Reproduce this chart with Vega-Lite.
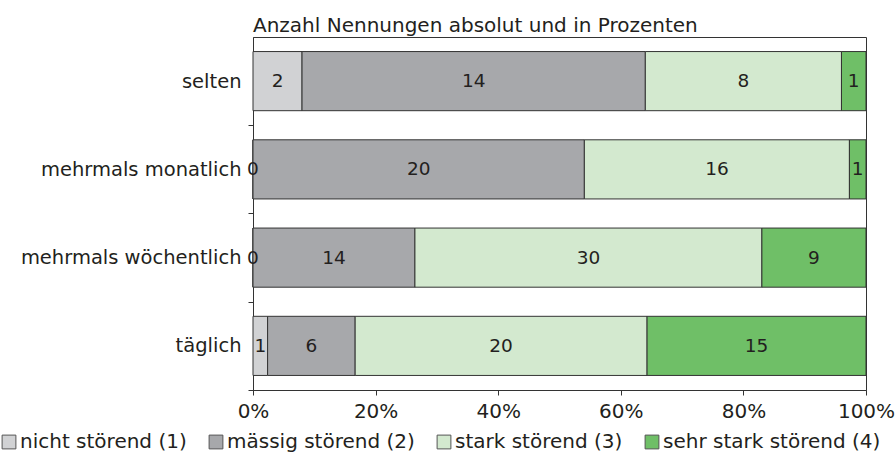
{
  "$schema": "https://vega.github.io/schema/vega-lite/v6.json",
  "width": 613,
  "height": 353,
  "autosize": {"type": "none"},
  "padding": {"left": 253, "top": 37, "right": 30, "bottom": 67},
  "background": "white",
  "config": {
    "font": "DejaVu Sans",
    "view": {"stroke": "#333333", "strokeWidth": 1},
    "axis": {"labelColor": "#231f20", "domainColor": "#333333", "tickColor": "#333333", "grid": false, "title": null},
    "legend": {"labelColor": "#231f20"}
  },
  "title": {"text": "Anzahl Nennungen absolut und in Prozenten", "anchor": "start", "frame": "group", "fontSize": 20, "fontWeight": "normal", "color": "#231f20", "offset": 1, "font": "DejaVu Sans"},
  "data": {
    "values": [
      {"haeufigkeit": "selten", "stufe": "nicht störend (1)", "nr": 1, "anzahl": 2},
      {"haeufigkeit": "selten", "stufe": "mässig störend (2)", "nr": 2, "anzahl": 14},
      {"haeufigkeit": "selten", "stufe": "stark störend (3)", "nr": 3, "anzahl": 8},
      {"haeufigkeit": "selten", "stufe": "sehr stark störend (4)", "nr": 4, "anzahl": 1},
      {"haeufigkeit": "mehrmals monatlich", "stufe": "nicht störend (1)", "nr": 1, "anzahl": 0},
      {"haeufigkeit": "mehrmals monatlich", "stufe": "mässig störend (2)", "nr": 2, "anzahl": 20},
      {"haeufigkeit": "mehrmals monatlich", "stufe": "stark störend (3)", "nr": 3, "anzahl": 16},
      {"haeufigkeit": "mehrmals monatlich", "stufe": "sehr stark störend (4)", "nr": 4, "anzahl": 1},
      {"haeufigkeit": "mehrmals wöchentlich", "stufe": "nicht störend (1)", "nr": 1, "anzahl": 0},
      {"haeufigkeit": "mehrmals wöchentlich", "stufe": "mässig störend (2)", "nr": 2, "anzahl": 14},
      {"haeufigkeit": "mehrmals wöchentlich", "stufe": "stark störend (3)", "nr": 3, "anzahl": 30},
      {"haeufigkeit": "mehrmals wöchentlich", "stufe": "sehr stark störend (4)", "nr": 4, "anzahl": 9},
      {"haeufigkeit": "täglich", "stufe": "nicht störend (1)", "nr": 1, "anzahl": 1},
      {"haeufigkeit": "täglich", "stufe": "mässig störend (2)", "nr": 2, "anzahl": 6},
      {"haeufigkeit": "täglich", "stufe": "stark störend (3)", "nr": 3, "anzahl": 20},
      {"haeufigkeit": "täglich", "stufe": "sehr stark störend (4)", "nr": 4, "anzahl": 15}
    ]
  },
  "encoding": {
    "y": {
      "field": "haeufigkeit", "type": "nominal",
      "sort": ["selten", "mehrmals monatlich", "mehrmals wöchentlich", "täglich"],
      "scale": {"paddingInner": 0.33, "paddingOuter": 0.165},
      "axis": {"labelFontSize": 19.5, "labelPadding": 7, "tickSize": 5, "bandPosition": 1, "tickExtra": false, "tickOffset": 14.56, "labelOffset": -14.56, "labelLimit": 300}
    },
    "x": {
      "field": "anzahl", "type": "quantitative", "aggregate": "sum", "stack": "normalize",
      "scale": {"domain": [0, 1]},
      "axis": {"format": "%", "values": [0, 0.2, 0.4, 0.6, 0.8, 1], "labelFontSize": 20, "tickSize": 5, "labelPadding": 6, "labelFlush": false}
    },
    "order": {"field": "nr", "type": "quantitative"}
  },
  "layer": [
    {
      "mark": {"type": "bar", "stroke": "#333333", "strokeWidth": 1},
      "encoding": {
        "color": {
          "field": "stufe", "type": "nominal",
          "scale": {
            "domain": ["nicht störend (1)", "mässig störend (2)", "stark störend (3)", "sehr stark störend (4)"],
            "range": ["#d1d2d4", "#a7a8ab", "#d3e9cf", "#6fbf67"]
          },
          "legend": {
            "title": null, "orient": "none", "direction": "horizontal",
            "legendX": -254, "legendY": 395,
            "symbolType": "square", "symbolSize": 190, "symbolStrokeColor": "#555555", "symbolStrokeWidth": 1,
            "labelFontSize": 20, "labelOffset": 1, "columnPadding": 19, "labelLimit": 400
          }
        }
      }
    },
    {
      "mark": {"type": "text", "fontSize": 18.5, "color": "#231f20"},
      "encoding": {
        "x": {"field": "anzahl", "type": "quantitative", "aggregate": "sum", "stack": "normalize", "bandPosition": 0.5},
        "text": {"field": "anzahl", "type": "quantitative", "aggregate": "sum"}
      }
    }
  ]
}
